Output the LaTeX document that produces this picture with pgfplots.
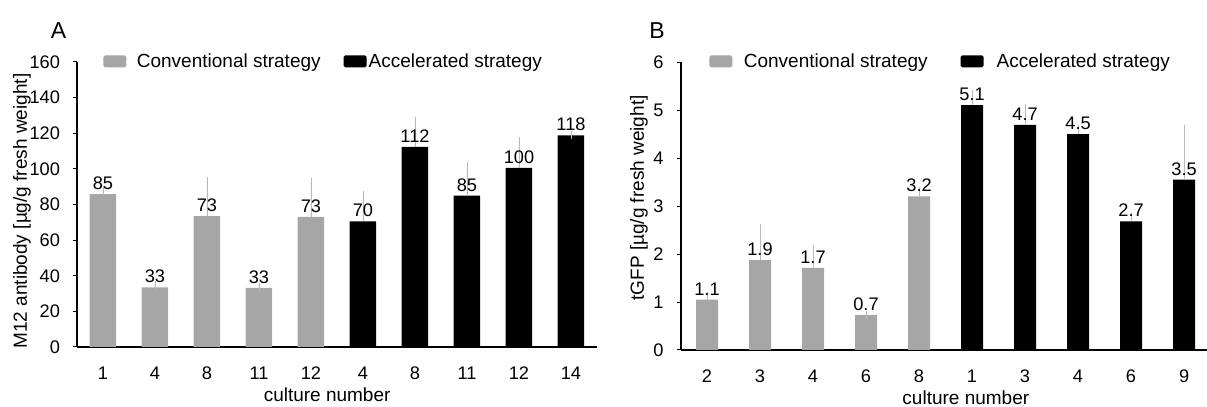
\documentclass[border=0pt]{standalone}
\usepackage{fontspec}
\setmainfont{Liberation Sans}
\usepackage{pgfplots}
\usepackage{pgfplotstable}
\pgfplotsset{compat=1.18}
\definecolor{bargray}{RGB}{166,166,166}
\definecolor{errgray}{RGB}{185,185,185}
\newcommand\myfont{\fontsize{9.5}{11}\selectfont}
\newcommand\tickfont{\fontsize{9.1}{11}\selectfont}

\pgfplotstableread{
x y e lab
0 85.8 2 85
1 33.5 1.5 33
2 73.5 19.5 73
3 33.2 0.6 33
4 73 19.5 73
}\Aconv
\pgfplotstableread{
x y e lab
5 70.5 15 70
6 112.3 14.5 112
7 85 16.5 85
8 100.5 15 100
9 118.8 0 118
}\Aacc
\pgfplotstableread{
x y e lab
0 1.05 0.07 1.1
1 1.87 0.68 1.9
2 1.71 0.39 1.7
3 0.73 0 0.7
4 3.2 0.12 3.2
}\Bconv
\pgfplotstableread{
x y e lab
5 5.1 0.24 5.1
6 4.69 0.36 4.7
7 4.5 0.1 4.5
8 2.68 0.1 2.7
9 3.55 1.06 3.5
}\Bacc

\pgfplotsset{
  panel/.style={
    scale only axis, ybar,
    axis x line=bottom, axis y line=left,
    axis line style={-, line width=1pt, black},
    ymin=0, xmin=-0.5,
    xtick={0,...,9}, xtick style={draw=none},
    ytick style={line width=0.5pt, black},
    tick align=outside, major tick length=2pt,
    tick label style={font=\tickfont},
    xticklabel style={yshift=-4.5pt},
    yticklabel style={xshift=-3pt},
    label style={font=\myfont},
    /pgf/number format/assume math mode=true,
    nodes near coords, point meta=explicit symbolic,
    nodes near coords style={font=\tickfont, inner sep=2pt, black},
    error bars/y dir=plus, error bars/y explicit,
    error bars/error bar style={errgray, line width=0.4pt},
    error bars/error mark options={errgray, line width=0.4pt, mark size=2pt},
    legend columns=2, legend cell align=left,
    legend image code/.code={\fill[##1, rounded corners=0.8pt] (0pt,-2.7pt) rectangle (11.5pt,3.3pt);},
    clip=false,
  }
}

\begin{document}
\begin{tikzpicture}
\useasboundingbox (0,0) rectangle (603.5pt,203.5pt);
% Panel A
\begin{axis}[panel,
  at={(38.5pt,30pt)}, anchor=south west,
  width=260pt, height=142.5pt,
  xmax=9.5, ymax=160, ytick={0,20,...,160},
  bar width=13.25pt,
  xticklabels={1,4,8,11,12,4,8,11,12,14},
  xlabel={culture number},
  xlabel style={at={(axis description cs:0.481,-0.168)}, anchor=center},
  ylabel={M12 antibody [µg/g fresh weight]},
  ylabel style={at={(axis description cs:-0.1058,0.477)}, anchor=center},
  legend style={at={(axis description cs:0,1)}, anchor=west, xshift=13pt, yshift=0pt,
    draw=none, fill=none, inner sep=0pt, font=\myfont,
    nodes={inner sep=0pt},
    /tikz/column 1/.style={column sep=5.25pt},
    /tikz/column 2/.style={column sep=11.5pt},
    /tikz/column 3/.style={column sep=1pt}},
]
\addplot[fill=bargray, draw=none, bar shift=0pt] table[x=x, y=y, y error plus=e, meta=lab] {\Aconv};
\addlegendentry{Conventional strategy}
\addplot[fill=black, draw=none, bar shift=0pt] table[x=x, y=y, y error plus=e, meta=lab] {\Aacc};
\addlegendentry{Accelerated strategy}
\node[font=\fontsize{11.5}{13}\selectfont] at (axis description cs:-0.0356,1.109) {A};
\end{axis}
% Panel B
\begin{axis}[panel,
  at={(340.25pt,28.5pt)}, anchor=south west,
  width=263.7pt, height=144pt,
  xmax=9.45, ymax=6, ytick={0,1,...,6},
  bar width=11pt,
  xticklabels={2,3,4,6,8,1,3,4,6,9},
  xlabel={culture number},
  xlabel style={at={(axis description cs:0.541,-0.165)}, anchor=center},
  ylabel={tGFP [µg/g fresh weight]},
  ylabel style={at={(axis description cs:-0.0787,0.528)}, anchor=center},
  legend style={at={(axis description cs:0,1)}, anchor=west, xshift=14.25pt, yshift=0pt,
    draw=none, fill=none, inner sep=0pt, font=\myfont,
    nodes={inner sep=0pt},
    /tikz/column 1/.style={column sep=5.75pt},
    /tikz/column 2/.style={column sep=16.5pt},
    /tikz/column 3/.style={column sep=6.5pt}},
]
\addplot[fill=bargray, draw=none, bar shift=0pt] table[x=x, y=y, y error plus=e, meta=lab] {\Bconv};
\addlegendentry{Conventional strategy}
\addplot[fill=black, draw=none, bar shift=0pt] table[x=x, y=y, y error plus=e, meta=lab] {\Bacc};
\addlegendentry{Accelerated strategy}
\node[font=\fontsize{11.5}{13}\selectfont] at (axis description cs:-0.0446,1.108) {B};
\end{axis}
\end{tikzpicture}
\end{document}
